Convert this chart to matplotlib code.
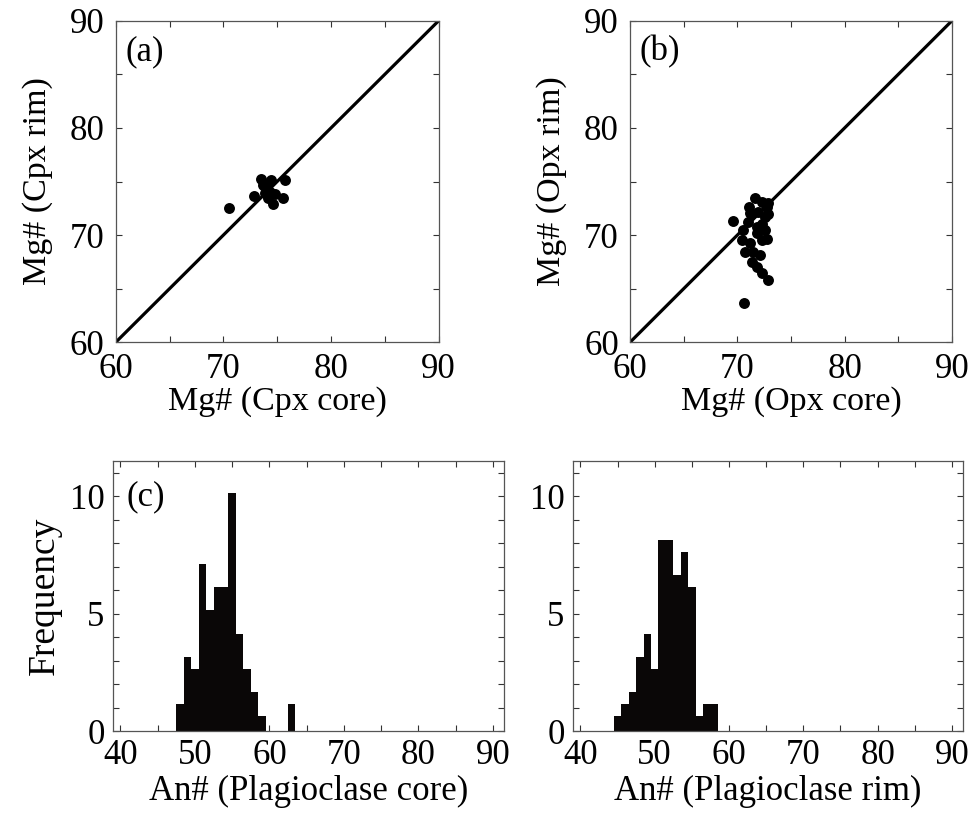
import matplotlib
matplotlib.use("Agg")
import matplotlib.pyplot as plt
from matplotlib.ticker import MultipleLocator

plt.rcParams['font.family'] = ['Liberation Serif', 'DejaVu Serif']
plt.rcParams['mathtext.fontset'] = 'stix'

# ---- data ----
cpx_core = [70.55, 73.52, 74.40, 75.72, 72.87, 75.50, 74.58, 74.00, 74.33, 73.86, 74.79, 74.17, 73.70]
cpx_rim = [72.50, 75.20, 75.14, 75.10, 73.65, 73.46, 72.90, 74.37, 74.05, 73.90, 73.80, 73.43, 74.67]

opx_core = [71.65, 72.27, 71.12, 72.74, 71.18, 71.96, 72.58, 71.03, 70.56, 70.41, 72.27, 71.18,
            70.72, 71.49, 72.10, 71.34, 71.80, 72.27, 72.89, 69.57, 70.65, 71.80, 72.58, 71.80,
            72.90, 72.90, 72.80, 72.30]
opx_rim = [73.43, 73.12, 72.65, 72.65, 72.03, 72.20, 71.72, 71.25, 70.47, 69.54, 69.54, 69.23,
           68.45, 68.45, 68.14, 67.52, 67.05, 66.44, 65.80, 71.30, 63.64, 70.78, 70.47, 70.16,
           73.00, 72.00, 69.60, 71.00]

plag_core_bins = [48, 49, 50, 51, 52, 53, 54, 55, 56, 57, 58, 59, 63]
plag_core_freq = [1.13, 3.14, 2.64, 7.13, 5.16, 6.13, 6.13, 10.13, 4.14, 2.64, 1.67, 0.66, 1.13]

plag_rim_bins = [45, 46, 47, 48, 49, 50, 51, 52, 53, 54, 55, 56, 57, 58]
plag_rim_freq = [0.66, 1.13, 1.65, 3.14, 4.14, 2.64, 8.14, 8.14, 6.63, 7.64, 6.13, 0.66, 1.13, 1.13]

mg_ticks = [60, 70, 80, 90]
an_ticks = [40, 50, 60, 70, 80, 90]
freq_ticks = [0, 5, 10]

W, H = 974, 816
fig = plt.figure(figsize=(W / 100, H / 100), dpi=100)

def fax(l, t, r, b):
    return fig.add_axes([l / W, 1 - b / H, (r - l) / W, (b - t) / H])

ax_a = fax(115.7, 20.7, 438.7, 342.3)
ax_b = fax(630, 20.7, 952, 342.3)
ax_c = fax(113, 461, 504, 731)
ax_d = fax(573, 461, 963, 731)

spine_col = '#555555'
FS = 25

def style(ax, minor_x, minor_y, pad, fs):
    for s in ax.spines.values():
        s.set_color(spine_col)
        s.set_linewidth(0.9)
    ax.xaxis.set_minor_locator(MultipleLocator(minor_x))
    ax.yaxis.set_minor_locator(MultipleLocator(minor_y))
    ax.tick_params(which='both', direction='in', top=True, right=True,
                   color='#333333', width=0.8)
    ax.tick_params(which='major', length=4, labelsize=fs, pad=pad)
    ax.tick_params(which='minor', length=4)

# scatter panels
for ax, xs, ys, xl, yl, tag in [
    (ax_a, cpx_core, cpx_rim, 'Mg# (Cpx core)', 'Mg# (Cpx rim)', '(a)'),
    (ax_b, opx_core, opx_rim, 'Mg# (Opx core)', 'Mg# (Opx rim)', '(b)'),
]:
    ax.plot([60, 90], [60, 90], color='black', lw=2.3, zorder=2)
    ax.scatter(xs, ys, s=62, color='black', zorder=3, linewidths=0)
    ax.set_xlim(60, 90)
    ax.set_ylim(60, 90)
    ax.set_xticks(mg_ticks)
    ax.set_yticks(mg_ticks)
    style(ax, 5, 5, 8, FS)
    ax.set_xlabel(xl, fontsize=24.5, labelpad=0)
    ax.set_ylabel(yl, fontsize=24.5, labelpad=12)
    ax.text(0.03, 0.955, tag, transform=ax.transAxes, fontsize=25, va='top', ha='left')

# histogram panels
for ax, bins, freq, xl in [
    (ax_c, plag_core_bins, plag_core_freq, 'An# (Plagioclase core)'),
    (ax_d, plag_rim_bins, plag_rim_freq, 'An# (Plagioclase rim)'),
]:
    ax.bar(bins, freq, width=1.0, color='#0a0707', edgecolor='none', linewidth=0, zorder=2)
    ax.set_xlim(39.0, 91.5)
    ax.set_ylim(0, 11.5)
    ax.set_xticks(an_ticks)
    ax.set_yticks(freq_ticks)
    style(ax, 5, 1, 6, 25)
    ax.set_xlabel(xl, fontsize=25, labelpad=2)

ax_c.set_ylabel('Frequency', fontsize=27, labelpad=6)
ax_c.text(0.035, 0.93, '(c)', transform=ax_c.transAxes, fontsize=25, va='top', ha='left')

fig.savefig('out.png', dpi=100)
